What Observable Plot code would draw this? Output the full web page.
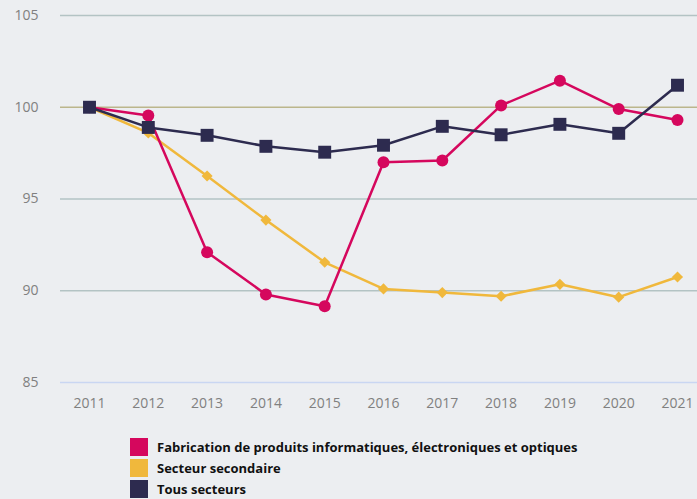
<!DOCTYPE html>
<html><head><meta charset="utf-8">
<script src="https://cdn.jsdelivr.net/npm/d3@7"></script>
<script src="https://cdn.jsdelivr.net/npm/@observablehq/plot@0.6"></script>
<style>
html,body{margin:0;padding:0;background:#eceef1;}
#wrap{position:relative;width:697px;height:499px;overflow:hidden;font-family:"Open Sans",sans-serif;}
#legend{position:absolute;left:130px;top:436px;}
.it{display:flex;align-items:center;height:21px;font-weight:700;font-size:13px;color:#111;}
.sw{width:18px;height:18px;margin-right:9px;}
</style></head>
<body><div id="wrap"><div id="chart"></div><div id="legend"></div></div>
<script>
const years = [2011,2012,2013,2014,2015,2016,2017,2018,2019,2020,2021];
const seriesNames = ["Fabrication de produits informatiques, électroniques et optiques","Secteur secondaire","Tous secteurs"];
const fabrication = [100,99.55,92.1,89.8,89.15,97.0,97.1,100.1,101.45,99.9,99.3];
const secondaire = [100,98.6,96.25,93.85,91.55,90.1,89.9,89.7,90.35,89.65,90.75];
const tous = [100,98.9,98.47,97.87,97.55,97.93,98.96,98.5,99.07,98.58,101.2];
const yTicks = [85,90,95,100,105];
const colors = ["#d5075d","#f0b83c","#2d2b4f"];

const mk = (vals) => years.map((y,i)=>({year:y, v:vals[i]}));
const dF = mk(fabrication), dS = mk(secondaire), dT = mk(tous);

const chart = Plot.plot({
  width:697, height:425,
  marginLeft:60, marginRight:0, marginTop:15, marginBottom:43,
  style:{background:"transparent", fontFamily:"'Open Sans',sans-serif"},
  x:{type:"point", domain:years, range:[89,677], padding:0, round:false, label:null},
  y:{domain:[85,105], label:null},
  marks:[
    Plot.ruleY(yTicks.filter(t=>t!==100 && t!==85), {stroke:"#b3c3c4", strokeWidth:1.5}),
    Plot.ruleY([100], {stroke:"#bbb68c", strokeWidth:1.5}),
    Plot.ruleY([85], {stroke:"#c9d6f2", strokeWidth:1.5}),
    Plot.axisX({tickSize:0, tickPadding:16, fontSize:14, fill:"#808080", tickFormat:d=>String(d)}),
    Plot.axisY({ticks:yTicks, tickSize:0, tickPadding:22, fontSize:14, fill:"#808080",
      fontWeight:d=>d===100?"700":"400"}),
    Plot.line(dS,{x:"year",y:"v",stroke:colors[1],strokeWidth:2.5}),
    Plot.dot(dS,{x:"year",y:"v",symbol:"diamond2",r:5,fill:colors[1]}),
    Plot.line(dF,{x:"year",y:"v",stroke:colors[0],strokeWidth:2.5}),
    Plot.dot(dF,{x:"year",y:"v",symbol:"circle",r:6,fill:colors[0]}),
    Plot.line(dT,{x:"year",y:"v",stroke:colors[2],strokeWidth:2.5}),
    Plot.dot(dT,{x:"year",y:"v",symbol:"square",r:7.3,fill:colors[2]})
  ]
});
document.getElementById("chart").appendChild(chart);
const lg = document.getElementById("legend");
seriesNames.forEach((n,i)=>{
  const it=document.createElement("div"); it.className="it";
  const sw=document.createElement("div"); sw.className="sw"; sw.style.background=colors[i];
  const t=document.createElement("span"); t.textContent=n;
  it.appendChild(sw); it.appendChild(t); lg.appendChild(it);
});
</script></body></html>
